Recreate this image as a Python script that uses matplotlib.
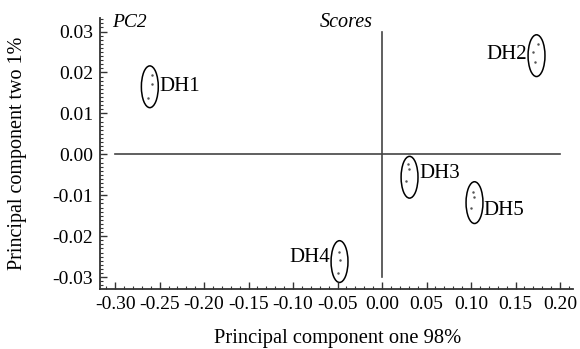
import matplotlib
matplotlib.use("Agg")
import matplotlib.pyplot as plt
from matplotlib.patches import Ellipse
from matplotlib.ticker import MultipleLocator, FormatStrFormatter

plt.rcParams['font.family'] = ['Liberation Serif', 'DejaVu Serif']

groups = ["DH1", "DH2", "DH3", "DH4", "DH5"]
center_x = [-0.261, 0.1736, 0.0309, -0.0478, 0.1039]
center_y = [0.0165, 0.0241, -0.0056, -0.0262, -0.0118]
dots_x = [[-0.259, -0.258, -0.263],
          [0.175, 0.1693, 0.172],
          [0.0296, 0.0307, 0.027],
          [-0.048, -0.0472, -0.0498],
          [0.1026, 0.1037, 0.100]]
dots_y = [[0.0193, 0.0171, 0.0138],
          [0.0270, 0.0250, 0.0226],
          [-0.0023, -0.0035, -0.0066],
          [-0.0238, -0.0259, -0.0291],
          [-0.0092, -0.0104, -0.0132]]
label_side = ["right", "left", "right", "left", "right"]
label_dy = [0.0, 0.0003, 0.0009, 0.0009, -0.002]

fig = plt.figure(figsize=(5.8, 3.49), dpi=100)
ax = fig.add_axes([100/580, 1 - 289/349, 473/580, 271/349])
ax.set_xlim(-0.317, 0.2146)
ax.set_ylim(-0.0329, 0.0333)

col = '#333333'
ax.plot([-0.30, 0.20], [0, 0], color='#444444', lw=1.2)
ax.plot([0, 0], [-0.03, 0.03], color='#444444', lw=1.2)

ew, eh = 0.019, 0.0102
for i, g in enumerate(groups):
    ax.add_patch(Ellipse((center_x[i], center_y[i]), ew, eh, fill=False,
                         edgecolor='black', lw=1.1))
    ax.scatter(dots_x[i], dots_y[i], s=0.6, color='#555555')
    if label_side[i] == "right":
        ax.text(center_x[i] + ew/2 + 0.001, center_y[i] + label_dy[i], g,
                ha='left', va='center', fontsize=15)
    else:
        ax.text(center_x[i] - ew/2 - 0.001, center_y[i] + label_dy[i], g,
                ha='right', va='center', fontsize=15)

ax.text(-0.303, 0.0322, "PC2", style='italic', fontsize=14, ha='left', va='center')
ax.text(-0.011, 0.0322, "Scores", style='italic', fontsize=14.5, ha='right', va='center')

for s in ['top', 'right']:
    ax.spines[s].set_visible(False)
for s in ['left', 'bottom']:
    ax.spines[s].set_color(col)
    ax.spines[s].set_linewidth(1.3)

ax.xaxis.set_major_locator(MultipleLocator(0.05))
ax.xaxis.set_minor_locator(MultipleLocator(0.01))
ax.yaxis.set_major_locator(MultipleLocator(0.01))
ax.yaxis.set_minor_locator(MultipleLocator(0.001))
ax.xaxis.set_major_formatter(FormatStrFormatter('%.2f'))
ax.yaxis.set_major_formatter(FormatStrFormatter('%.2f'))
ax.tick_params(which='major', direction='in', length=5, width=1, color=col,
               labelsize=14, pad=5)
ax.tick_params(which='minor', direction='in', length=2.5, width=0.8, color=col)
ax.set_xlim(-0.317, 0.2146)

ax.set_xlabel("Principal component one 98%", fontsize=14.8, va='center')
ax.xaxis.set_label_coords(0.502, -0.181)
ax.set_ylabel("Principal component two 1%", fontsize=14.5, va='center')
ax.yaxis.set_label_coords(-0.175, 0.5)

fig.savefig("out.png", dpi=100)
